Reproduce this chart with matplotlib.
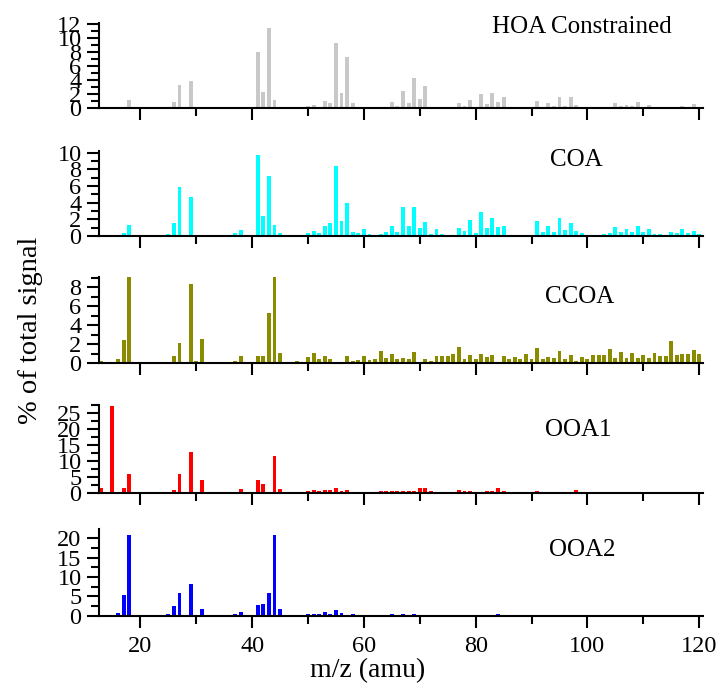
import numpy as np
import matplotlib
matplotlib.use('Agg')
from matplotlib import pyplot as plt
from matplotlib.ticker import MultipleLocator

plt.rcParams['font.family'] = ['Liberation Serif', 'DejaVu Serif']

# m/z and % of total signal for each factor (zeros left out)
hoa_mz = [17, 18, 25, 26, 27, 29, 30, 31, 37, 38, 41, 42, 43, 44, 45, 50, 51, 52, 53, 54,
          55, 56, 57, 58, 59, 63, 64, 65, 66, 67, 68, 69, 70, 71, 72, 73, 74, 75, 77, 78,
          79, 80, 81, 82, 83, 84, 85, 86, 89, 91, 92, 93, 94, 95, 96, 97, 98, 99, 103, 104,
          105, 106, 107, 108, 109, 110, 111, 112, 115, 116, 117, 118, 119, 120]
hoa_val = [0.25, 1.2, 0.15, 0.95, 3.3, 3.9, 0.15, 0.1, 0.15, 0.25, 8.0, 2.3, 11.4, 1.2, 0.15, 0.3, 0.5, 0.25, 1.0, 0.8,
           9.25, 2.2, 7.35, 0.75, 0.1, 0.25, 0.25, 0.85, 0.3, 2.5, 0.8, 4.3, 1.3, 3.2, 0.2, 0.15, 0.1, 0.1, 0.7, 0.35,
           1.2, 0.2, 2.0, 0.6, 2.2, 0.9, 1.55, 0.2, 0.1, 1.1, 0.25, 0.7, 0.35, 1.55, 0.35, 1.55, 0.5, 0.25, 0.15, 0.25,
           0.8, 0.35, 0.5, 0.35, 0.9, 0.25, 0.5, 0.15, 0.25, 0.25, 0.35, 0.25, 0.6, 0.25]

coa_mz = [17, 18, 25, 26, 27, 29, 30, 37, 38, 41, 42, 43, 44, 45, 50, 51, 52, 53, 54, 55,
          56, 57, 58, 59, 60, 61, 63, 64, 65, 66, 67, 68, 69, 70, 71, 72, 73, 74, 77, 78,
          79, 80, 81, 82, 83, 84, 85, 86, 87, 91, 92, 93, 94, 95, 96, 97, 98, 99, 103, 104,
          105, 106, 107, 108, 109, 110, 111, 112, 113, 115, 116, 117, 118, 119, 120]
coa_val = [0.3, 1.35, 0.25, 1.5, 5.85, 4.65, 0.15, 0.3, 0.7, 9.7, 2.4, 7.2, 1.35, 0.3, 0.3, 0.6, 0.4, 1.2, 1.5, 8.4,
           1.85, 4.0, 0.45, 0.3, 0.8, 0.2, 0.2, 0.45, 1.25, 0.45, 3.45, 1.25, 3.5, 0.9, 1.7, 0.25, 0.8, 0.2, 0.9, 0.65,
           1.9, 0.4, 2.85, 0.9, 2.2, 1.1, 1.2, 0.1, 0.1, 1.8, 0.5, 1.2, 0.5, 2.2, 0.7, 1.5, 0.6, 0.4, 0.2, 0.4,
           1.05, 0.45, 0.85, 0.45, 1.25, 0.45, 0.8, 0.25, 0.25, 0.45, 0.3, 0.8, 0.3, 0.65, 0.2]

ccoa_mz = [13, 16, 17, 18, 25, 26, 27, 29, 30, 31, 37, 38, 41, 42, 43, 44, 45, 48, 50, 51,
           52, 53, 54, 57, 58, 59, 60, 61, 62, 63] + list(range(64, 121))
ccoa_val = [0.2, 0.4, 2.45, 9.3, 0.1, 0.8, 2.1, 8.3, 0.2, 2.5, 0.2, 0.8, 0.8, 0.8, 5.3, 9.3, 1.05, 0.2, 0.7, 1.1,
            0.5, 0.8, 0.4, 0.8, 0.25, 0.35, 0.8, 0.3, 0.45, 1.3,
            0.6, 1.0, 0.4, 0.6, 0.5, 1.15, 0.05, 0.5, 0.2, 0.8, 0.8, 0.8, 0.95, 1.7, 0.5, 0.9, 0.4, 0.95, 0.7, 0.9,
            0.05, 0.8, 0.45, 0.7, 0.5, 0.95, 0.4, 1.6, 0.5, 0.7, 0.6, 1.3, 0.5, 0.9, 0.2, 0.7, 0.5, 0.9, 0.9, 0.9,
            1.5, 0.6, 1.2, 0.6, 1.05, 0.6, 0.9, 0.6, 1.1, 0.8, 0.8, 2.35, 0.9, 0.95, 0.95, 1.4, 1.0]

ooa1_mz = [13, 15, 16, 17, 18, 24, 25, 26, 27, 29, 30, 31, 37, 38, 41, 42, 44, 45, 49, 50,
           51, 52, 53, 54, 55, 56, 57, 58, 59, 60, 61, 62, 63, 64, 65, 66, 67, 68, 69, 70,
           71, 72, 73, 74, 77, 78, 79, 82, 83, 84, 85, 89, 91, 98, 115]
ooa1_val = [1.6, 27.4, 0.2, 1.6, 5.8, 0.15, 0.3, 0.7, 5.8, 12.7, 0.2, 3.9, 0.3, 1.15, 3.9, 2.8, 11.7, 1.15, 0.1, 0.5,
            0.7, 0.6, 1.0, 0.7, 1.5, 0.6, 1.0, 0.3, 0.2, 0.2, 0.3, 0.3, 0.4, 0.4, 0.5, 0.5, 0.4, 0.4, 0.5, 1.4,
            1.4, 0.4, 0.3, 0.2, 0.7, 0.5, 0.5, 0.4, 0.5, 1.5, 0.5, 0.2, 0.4, 1.0, 0.3]

ooa2_mz = [16, 17, 18, 24, 25, 26, 27, 29, 30, 31, 37, 38, 41, 42, 43, 44, 45, 49, 50, 51,
           52, 53, 54, 55, 56, 57, 58, 59, 60, 61, 62, 63, 64, 65, 66, 67, 68, 69, 70, 71,
           72, 73, 74, 77, 78, 79, 80, 81, 82, 83, 84, 85, 86, 91, 93, 95, 97, 98, 99, 104, 111]
ooa2_val = [0.8, 5.3, 20.9, 0.2, 0.5, 2.6, 5.9, 8.2, 0.2, 1.65, 0.5, 0.85, 2.75, 3.0, 5.9, 20.9, 1.7, 0.1, 0.45, 0.5,
            0.5, 0.85, 0.5, 1.4, 0.7, 0.2, 0.5, 0.2, 0.2, 0.15, 0.2, 0.3, 0.25, 0.35, 0.2, 0.35, 0.25, 0.35, 0.25, 0.3,
            0.2, 0.2, 0.15, 0.2, 0.3, 0.3, 0.15, 0.3, 0.15, 0.2, 0.35, 0.2, 0.1, 0.2, 0.15, 0.2, 0.3, 0.3, 0.3, 0.2, 0.2]

names = ['HOA Constrained', 'COA', 'CCOA', 'OOA1', 'OOA2']
colors = ['#c8c8c8', '#00ffff', '#8b8b00', '#ff0000', '#0000ff']
series = [(hoa_mz, hoa_val), (coa_mz, coa_val), (ccoa_mz, ccoa_val),
          (ooa1_mz, ooa1_val), (ooa2_mz, ooa2_val)]
ytops = [12.2, 10.25, 9.1, 27.6, 22.3]
ymajor = [2, 2, 2, 5, 5]
yminor = [1, 1, 1, 2.5, 2.5]
label_x = [0.80, 0.79, 0.795, 0.793, 0.80]
label_y = [0.95, 0.89, 0.76, 0.715, 0.76]

# axes boxes (left, bottom, width, height) in figure fraction
boxes = [(0.1375, 0.8426, 0.839, 0.1244),
         (0.1375, 0.657, 0.839, 0.124),
         (0.1375, 0.472, 0.839, 0.126),
         (0.1375, 0.2839, 0.839, 0.1274),
         (0.1375, 0.105, 0.839, 0.1257)]

fig = plt.figure(figsize=(7.2, 6.88), dpi=100)
for i in range(5):
    ax = fig.add_axes(boxes[i])
    mz, val = series[i]
    ax.bar(mz, val, width=0.7, color=colors[i], linewidth=0)
    ax.set_xlim(12.6, 120.7)
    ax.set_ylim(0, ytops[i])
    ax.spines['top'].set_visible(False)
    ax.spines['right'].set_visible(False)
    ax.spines['left'].set_linewidth(1.5)
    ax.spines['bottom'].set_linewidth(1.5)
    ax.xaxis.set_major_locator(MultipleLocator(20))
    ax.xaxis.set_minor_locator(MultipleLocator(10))
    ax.yaxis.set_major_locator(MultipleLocator(ymajor[i]))
    ax.yaxis.set_minor_locator(MultipleLocator(yminor[i]))
    ax.tick_params(which='major', direction='out', length=8.6, width=1.5, labelsize=17.5, pad=4)
    ax.tick_params(which='minor', direction='out', length=5.8, width=1.5)
    ax.tick_params(axis='x', pad=6)
    if i < 4:
        ax.tick_params(axis='x', labelbottom=False)
    ax.text(label_x[i], label_y[i], names[i], transform=ax.transAxes, ha='center', va='center', fontsize=18)
    ax.patch.set_alpha(0)

fig.text(0.042, 0.52, '% of total signal', rotation=90, ha='center', va='center', fontsize=20.5)
fig.text(0.511, 0.026, 'm/z (amu)', ha='center', va='center', fontsize=20)
plt.savefig('out.png', dpi=100)
